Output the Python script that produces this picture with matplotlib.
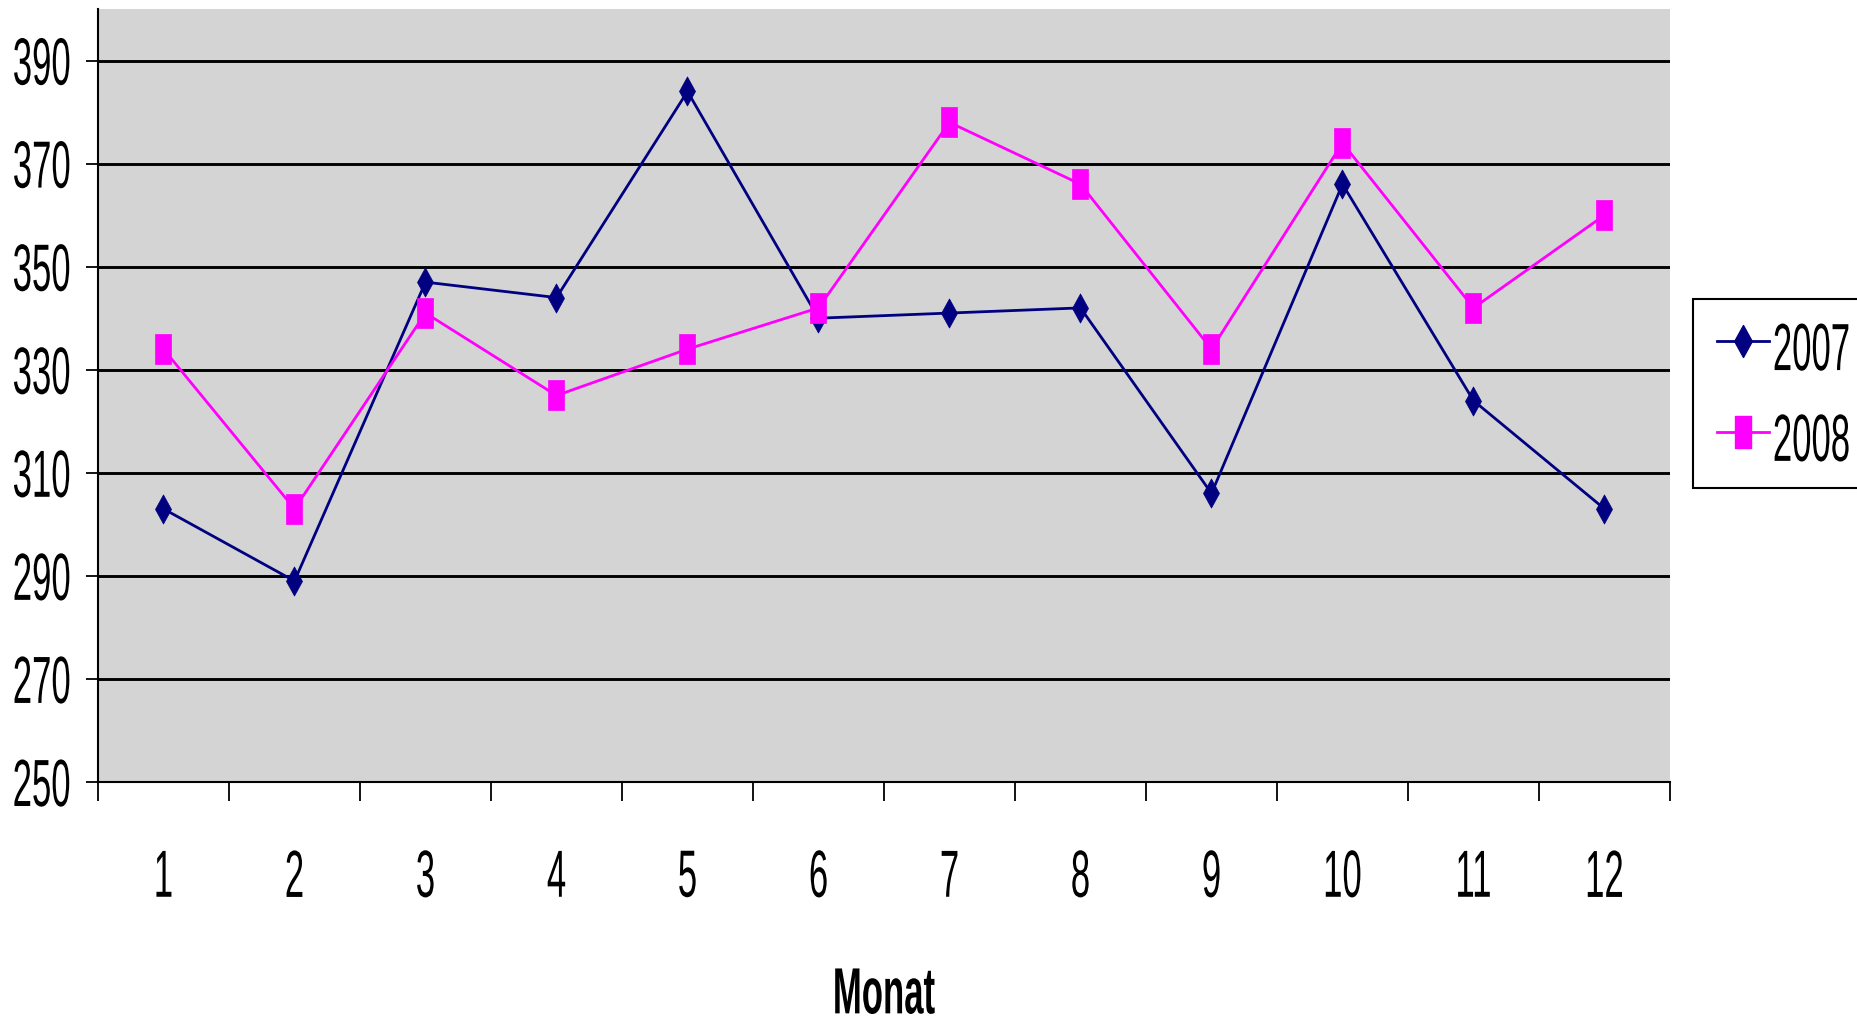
import matplotlib
matplotlib.use("Agg")
import matplotlib.pyplot as plt
from matplotlib import patheffects
from matplotlib.path import Path
from matplotlib.transforms import Affine2D
from matplotlib.lines import Line2D

# data
months = list(range(1, 13))
y2007 = [303, 289, 347, 344, 384, 340, 341, 342, 306, 366, 324, 303]
y2008 = [334, 303, 341, 325, 334, 342, 378, 366, 334, 374, 342, 360]
yticks = list(range(250, 400, 20))
series_names = ["2007", "2008"]

W, H = 1858, 1020
NAVY = "#000080"
MAGENTA = "#ff00ff"
FS = 25
SY = 1.92  # the source text is tall and narrow


class Stretch(patheffects.AbstractPathEffect):
    """Stretch the glyphs vertically around their own centre."""

    def __init__(self, sy):
        super().__init__()
        self.sy = sy

    def draw_path(self, renderer, gc, tpath, affine, rgbFace=None):
        ext = tpath.get_extents(affine)
        cy = (ext.y0 + ext.y1) / 2
        t = affine + Affine2D().translate(0, -cy).scale(1, self.sy).translate(0, cy)
        renderer.draw_path(gc, tpath, t, rgbFace)


plt.rcParams["font.family"] = ["Liberation Sans", "DejaVu Sans"]

# tall markers, like the stretched original
C = [Path.MOVETO, Path.LINETO, Path.LINETO, Path.LINETO, Path.CLOSEPOLY]
diamond = Path([(0, 1), (0.55, 0), (0, -1), (-0.55, 0), (0, 1)], C)
rect = Path([(-0.53, -1), (0.53, -1), (0.53, 1), (-0.53, 1), (-0.53, -1)], C)

fig = plt.figure(figsize=(W / 100, H / 100), dpi=100)
ax = fig.add_axes([98 / W, 1 - 783 / H, (1670 - 98) / W, (783 - 10) / H])
ax.set_facecolor("#d4d4d4")

ax.plot(months, y2007, color=NAVY, lw=2.0, marker=diamond, ms=21,
        mec=NAVY, mfc=NAVY, mew=0.5, zorder=3)
ax.plot(months, y2008, color=MAGENTA, lw=2.0, marker=rect, ms=21,
        mec=MAGENTA, mfc=MAGENTA, mew=0.5, zorder=3)

ax.set_xlim(0.5, 12.5)
ax.set_ylim(250, 400)
ax.set_yticks(yticks)
ax.yaxis.grid(True, color="black", lw=2.1)
ax.set_axisbelow(True)

for s in ("top", "right"):
    ax.spines[s].set_visible(False)
for s in ("left", "bottom"):
    ax.spines[s].set_color("black")
    ax.spines[s].set_linewidth(1.5)

ax.tick_params(axis="y", direction="out", length=8.6, width=1.3, pad=11,
               labelsize=FS, colors="black")

# tick marks between the months, labels in the middle
ax.set_xticks([m + 0.5 for m in range(0, 13)])
ax.set_xticks(months, minor=True)
ax.set_xticklabels([str(m) for m in months], minor=True)
ax.tick_params(axis="x", which="major", direction="out", length=13.7,
               width=1.3, labelbottom=False)
ax.tick_params(axis="x", which="minor", length=0, pad=56, labelsize=FS)

for lbl in ax.get_yticklabels() + ax.get_xticklabels(minor=True):
    lbl.set_path_effects([Stretch(SY)])

fig.text(884 / W, (H - 1004) / H, "Monat", ha="center", va="baseline",
         fontsize=FS, fontweight="bold", path_effects=[Stretch(1.88)])

handles = [
    Line2D([], [], color=NAVY, lw=2.0, marker=diamond, ms=23, mfc=NAVY, mec=NAVY),
    Line2D([], [], color=MAGENTA, lw=2.0, marker=rect, ms=23, mfc=MAGENTA, mec=MAGENTA),
]
leg = fig.legend(handles, series_names, loc="upper left",
                 bbox_to_anchor=(1693 / W, 1 - 300 / H),
                 bbox_transform=fig.transFigure, fontsize=FS, frameon=True,
                 fancybox=False, edgecolor="black", framealpha=1,
                 borderpad=0.7, labelspacing=1.2, handlelength=1.5,
                 handletextpad=0.1, handleheight=1.8, borderaxespad=0)
leg.get_frame().set_linewidth(1.5)
for t in leg.get_texts():
    t.set_path_effects([Stretch(SY)])

fig.savefig("out.png", dpi=100, facecolor="white")
